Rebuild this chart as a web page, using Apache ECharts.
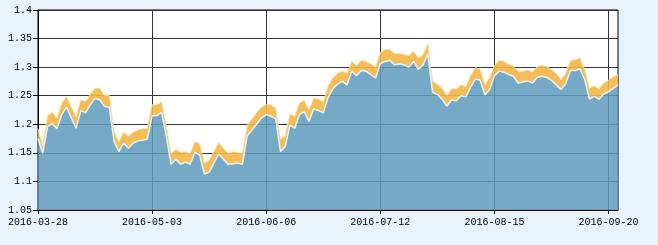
<!DOCTYPE html>
<html><head><meta charset="utf-8">
<script src="https://cdn.jsdelivr.net/npm/echarts@6/dist/echarts.min.js"></script>
<style>html,body{margin:0;padding:0;background:#e7f2fb;}#c{width:658px;height:245px;}</style>
</head><body><div id="c"></div>
<script>
const dates = [
"2016-03-28","2016-03-29","2016-03-30","2016-03-31","2016-04-01",
"2016-04-05","2016-04-06","2016-04-07","2016-04-08",
"2016-04-11","2016-04-12","2016-04-13","2016-04-14","2016-04-15",
"2016-04-18","2016-04-19","2016-04-20","2016-04-21","2016-04-22",
"2016-04-25","2016-04-26","2016-04-27","2016-04-28","2016-04-29",
"2016-05-03","2016-05-04","2016-05-05","2016-05-06",
"2016-05-09","2016-05-10","2016-05-11","2016-05-12","2016-05-13",
"2016-05-16","2016-05-17","2016-05-18","2016-05-19","2016-05-20",
"2016-05-23","2016-05-24","2016-05-25","2016-05-26","2016-05-27",
"2016-05-30","2016-05-31","2016-06-01","2016-06-02","2016-06-03",
"2016-06-06","2016-06-07","2016-06-08",
"2016-06-13","2016-06-14","2016-06-15","2016-06-16","2016-06-17",
"2016-06-20","2016-06-21","2016-06-22","2016-06-23","2016-06-24",
"2016-06-27","2016-06-28","2016-06-29","2016-06-30","2016-07-01",
"2016-07-04","2016-07-05","2016-07-06","2016-07-07","2016-07-08",
"2016-07-11","2016-07-12","2016-07-13","2016-07-14","2016-07-15",
"2016-07-18","2016-07-19","2016-07-20","2016-07-21","2016-07-22",
"2016-07-25","2016-07-26","2016-07-27","2016-07-28","2016-07-29",
"2016-08-01","2016-08-02","2016-08-03","2016-08-04","2016-08-05",
"2016-08-08","2016-08-09","2016-08-10","2016-08-11","2016-08-12",
"2016-08-15","2016-08-16","2016-08-17","2016-08-18","2016-08-19",
"2016-08-22","2016-08-23","2016-08-24","2016-08-25","2016-08-26",
"2016-08-29","2016-08-30","2016-08-31","2016-09-01","2016-09-02",
"2016-09-05","2016-09-06","2016-09-07","2016-09-08","2016-09-09",
"2016-09-12","2016-09-13","2016-09-14",
"2016-09-19","2016-09-20","2016-09-21","2016-09-22"
];
const blueValues = [
1.175,1.149,1.196,1.201,1.192,1.217,1.230,1.211,1.193,1.224,
1.220,1.234,1.245,1.243,1.231,1.230,1.170,1.152,1.167,1.158,
1.167,1.171,1.172,1.174,1.215,1.215,1.221,1.179,1.130,1.139,
1.130,1.134,1.130,1.151,1.146,1.113,1.116,1.132,1.148,1.139,
1.130,1.131,1.132,1.130,1.180,1.190,1.200,1.211,1.217,1.214,
1.210,1.152,1.161,1.199,1.193,1.217,1.222,1.205,1.227,1.224,
1.220,1.246,
1.262,1.270,1.275,1.269,1.293,1.285,1.294,1.293,1.287,1.281,
1.306,1.310,1.312,1.304,1.306,1.304,1.300,1.310,1.296,1.304,
1.323,1.256,1.252,1.244,1.232,1.243,1.241,1.250,1.248,1.265,
1.279,1.277,1.251,1.261,1.285,1.293,1.291,1.287,1.284,1.272,
1.274,1.276,1.272,1.282,1.284,1.282,1.277,1.269,1.261,1.271,
1.294,1.294,1.297,1.278,1.244,1.249,1.244,1.253,1.257,1.263,1.269
];
const orangeValues = [
1.193,1.161,1.215,1.221,1.211,1.237,1.249,1.230,1.213,1.243,
1.240,1.253,1.263,1.263,1.250,1.251,1.187,1.169,1.186,1.179,
1.186,1.190,1.192,1.193,1.234,1.234,1.239,1.196,1.148,1.156,
1.151,1.152,1.148,1.170,1.166,1.132,1.137,1.152,1.168,1.158,
1.149,1.152,1.151,1.149,1.198,1.209,1.220,1.230,1.235,1.234,
1.228,1.174,1.179,1.218,1.214,1.237,1.242,1.225,1.246,1.244,
1.239,1.267,
1.281,1.289,1.293,1.289,1.310,1.303,1.312,1.310,1.306,1.300,
1.325,1.331,1.331,1.324,1.324,1.322,1.320,1.328,1.316,1.322,
1.341,1.275,1.270,1.263,1.250,1.262,1.262,1.269,1.266,1.285,
1.299,1.296,1.269,1.281,1.303,1.312,1.310,1.305,1.302,1.293,
1.293,1.295,1.291,1.301,1.303,1.301,1.296,1.289,1.278,1.289,
1.312,1.313,1.316,1.296,1.263,1.267,1.262,1.272,1.277,1.283,1.287
];
const yMin = 1.05, yMax = 1.4, yStep = 0.05;

const orangeDiff = orangeValues.map((v, i) => +(v - blueValues[i]).toFixed(4));
const font = '"Liberation Mono","DejaVu Sans Mono",monospace';
const chart = echarts.init(document.getElementById('c'), null, {renderer: 'canvas'});
chart.setOption({
  backgroundColor: '#e7f2fb',
  animation: false,
  grid: {left: 38, right: 40, top: 10, bottom: 35, show: true, backgroundColor: '#ffffff', borderColor: '#000000', borderWidth: 1},
  xAxis: {
    type: 'category', data: dates, boundaryGap: false,
    axisLine: {lineStyle: {color: '#000'}},
    axisTick: {show: true, interval: 23, length: 4, lineStyle: {color: '#000'}},
    axisLabel: {interval: 23, color: '#000', fontFamily: font, fontSize: 10, margin: 7, hideOverlap: false},
    splitLine: {show: true, interval: 23, lineStyle: {color: '#333', width: 1}}
  },
  yAxis: {
    type: 'value', min: yMin, max: yMax, interval: yStep,
    axisLine: {show: true, lineStyle: {color: '#000'}},
    axisTick: {show: true, length: 5, lineStyle: {color: '#000'}},
    axisLabel: {color: '#000', fontFamily: font, fontSize: 10, margin: 6, formatter: v => String(+v.toFixed(2))},
    splitLine: {show: true, lineStyle: {color: '#333', width: 1}}
  },
  series: [
    {
      name: '单位净值', type: 'line', stack: 'nav', data: blueValues, symbol: 'none',
      lineStyle: {color: '#e6f2fa', width: 1.5},
      areaStyle: {color: 'rgba(94,155,188,0.86)', opacity: 1, origin: 'start'},
      z: 3
    },
    {
      name: '累计净值', type: 'line', stack: 'nav', data: orangeDiff, symbol: 'none',
      lineStyle: {color: 'rgba(250,225,170,0.9)', width: 1},
      areaStyle: {color: 'rgba(243,182,70,0.9)', opacity: 1},
      z: 2
    }
  ]
});
</script></body></html>
